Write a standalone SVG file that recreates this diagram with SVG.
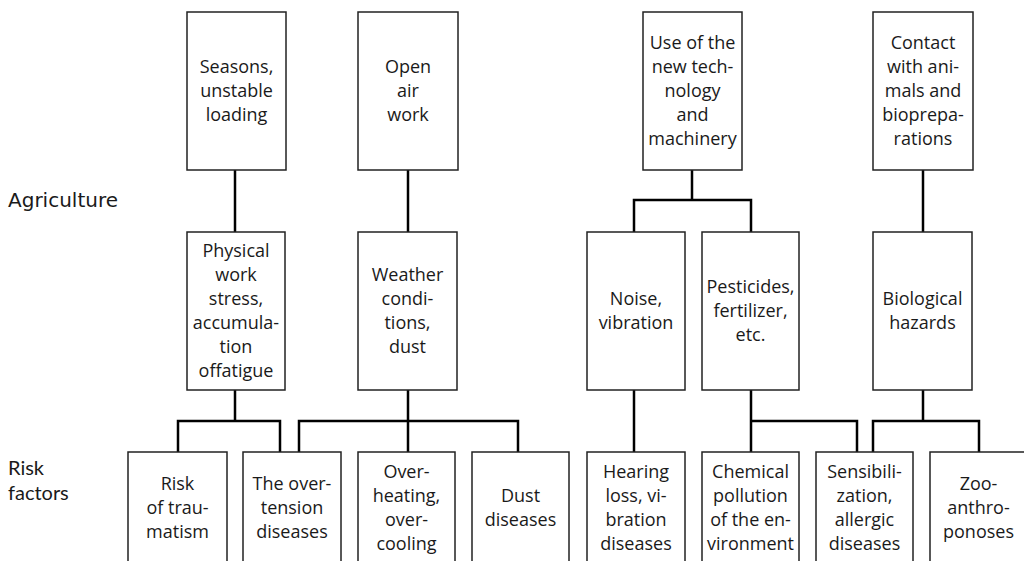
<svg xmlns="http://www.w3.org/2000/svg" width="1024" height="561" viewBox="0 0 1024 561">
<style>
.box{fill:#fff;stroke:#222;stroke-width:1.5}
.t{font-family:"Open Sans","Noto Sans",sans-serif;font-size:18px;fill:#1a1a1a;text-anchor:middle}
.lab{font-family:"DejaVu Sans",sans-serif;font-size:20px;fill:#1a1a1a}
.lab2{font-family:"Lato","Liberation Sans",sans-serif;font-size:20px;fill:#1a1a1a}
.c{fill:none;stroke:#000;stroke-width:2.5}
</style>
<rect width="1024" height="561" fill="#fff"/>
<text class="lab" x="8" y="207">Agriculture</text>
<text class="lab2" x="8" y="475">Risk</text>
<text class="lab2" x="8" y="500">factors</text>
<g id="connectors">
<path class="c" d="M235 170V232"/>
<path class="c" d="M408 170V232"/>
<path class="c" d="M692 170V200M634 232V200H751V232"/>
<path class="c" d="M923 170V232"/>
<path class="c" d="M235 390V421M178 452V421H280V452"/>
<path class="c" d="M408 390V452M299 452V421H518V452"/>
<path class="c" d="M634 390V452"/>
<path class="c" d="M751 390V452M751 421H857V452"/>
<path class="c" d="M923 390V421M873 452V421H979V452"/>
</g>
<g id="t1"><rect class="box" x="187" y="12" width="99" height="158"/><text class="t"><tspan x="236.5" y="73">Seasons,</tspan><tspan x="236.5" y="97">unstable</tspan><tspan x="236.5" y="121">loading</tspan></text></g>
<g id="t2"><rect class="box" x="358" y="12" width="100" height="158"/><text class="t"><tspan x="408" y="73">Open</tspan><tspan x="408" y="97">air</tspan><tspan x="408" y="121">work</tspan></text></g>
<g id="t3"><rect class="box" x="643" y="12" width="99" height="158"/><text class="t"><tspan x="692.5" y="49">Use of the</tspan><tspan x="692.5" y="73">new tech-</tspan><tspan x="692.5" y="97">nology</tspan><tspan x="692.5" y="121">and</tspan><tspan x="692.5" y="145">machinery</tspan></text></g>
<g id="t4"><rect class="box" x="873" y="12" width="100" height="158"/><text class="t"><tspan x="923" y="49">Contact</tspan><tspan x="923" y="73">with ani-</tspan><tspan x="923" y="97">mals and</tspan><tspan x="923" y="121">bioprepa-</tspan><tspan x="923" y="145">rations</tspan></text></g>
<g id="m1"><rect class="box" x="187" y="232" width="98" height="158"/><text class="t"><tspan x="236" y="257">Physical</tspan><tspan x="236" y="281">work</tspan><tspan x="236" y="305">stress,</tspan><tspan x="236" y="329">accumula-</tspan><tspan x="236" y="353">tion</tspan><tspan x="236" y="377">offatigue</tspan></text></g>
<g id="m2"><rect class="box" x="358" y="232" width="99" height="158"/><text class="t"><tspan x="407.5" y="281">Weather</tspan><tspan x="407.5" y="305">condi-</tspan><tspan x="407.5" y="329">tions,</tspan><tspan x="407.5" y="353">dust</tspan></text></g>
<g id="m3"><rect class="box" x="587" y="232" width="98" height="158"/><text class="t"><tspan x="636" y="305">Noise,</tspan><tspan x="636" y="329">vibration</tspan></text></g>
<g id="m4"><rect class="box" x="702" y="232" width="97" height="158"/><text class="t"><tspan x="750.5" y="293">Pesticides,</tspan><tspan x="750.5" y="317">fertilizer,</tspan><tspan x="750.5" y="341">etc.</tspan></text></g>
<g id="m5"><rect class="box" x="873" y="232" width="99" height="158"/><text class="t"><tspan x="922.5" y="305">Biological</tspan><tspan x="922.5" y="329">hazards</tspan></text></g>
<g id="b1"><rect class="box" x="128" y="452" width="99" height="130"/><text class="t"><tspan x="177.5" y="489.5">Risk</tspan><tspan x="177.5" y="513.5">of trau-</tspan><tspan x="177.5" y="537.5">matism</tspan></text></g>
<g id="b2"><rect class="box" x="243" y="452" width="98" height="130"/><text class="t"><tspan x="292" y="489.5">The over-</tspan><tspan x="292" y="513.5">tension</tspan><tspan x="292" y="537.5">diseases</tspan></text></g>
<g id="b3"><rect class="box" x="358" y="452" width="97" height="130"/><text class="t"><tspan x="406.5" y="477.5">Over-</tspan><tspan x="406.5" y="501.5">heating,</tspan><tspan x="406.5" y="525.5">over-</tspan><tspan x="406.5" y="549.5">cooling</tspan></text></g>
<g id="b4"><rect class="box" x="472" y="452" width="97" height="130"/><text class="t"><tspan x="520.5" y="501.5">Dust</tspan><tspan x="520.5" y="525.5">diseases</tspan></text></g>
<g id="b5"><rect class="box" x="587" y="452" width="98" height="130"/><text class="t"><tspan x="636" y="477.5">Hearing</tspan><tspan x="636" y="501.5">loss, vi-</tspan><tspan x="636" y="525.5">bration</tspan><tspan x="636" y="549.5">diseases</tspan></text></g>
<g id="b6"><rect class="box" x="702" y="452" width="97" height="130"/><text class="t"><tspan x="750.5" y="477.5">Chemical</tspan><tspan x="750.5" y="501.5">pollution</tspan><tspan x="750.5" y="525.5">of the en-</tspan><tspan x="750.5" y="549.5">vironment</tspan></text></g>
<g id="b7"><rect class="box" x="816" y="452" width="97" height="130"/><text class="t"><tspan x="864.5" y="477.5">Sensibili-</tspan><tspan x="864.5" y="501.5">zation,</tspan><tspan x="864.5" y="525.5">allergic</tspan><tspan x="864.5" y="549.5">diseases</tspan></text></g>
<g id="b8"><rect class="box" x="930" y="452" width="97" height="130"/><text class="t"><tspan x="978.5" y="489.5">Zoo-</tspan><tspan x="978.5" y="513.5">anthro-</tspan><tspan x="978.5" y="537.5">ponoses</tspan></text></g>
</svg>
